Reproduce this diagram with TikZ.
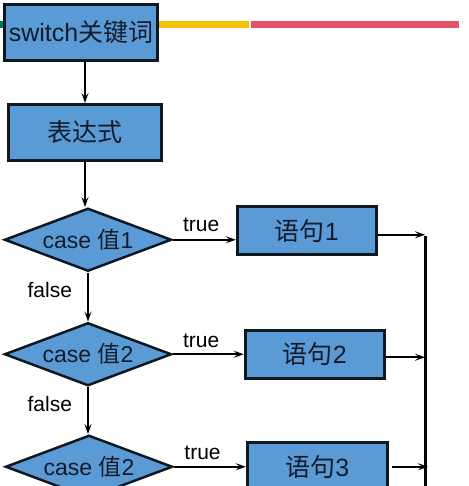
\documentclass[tikz,border=0pt]{standalone}
\usepackage{fontspec}
\setmainfont{Liberation Sans}
\newfontfamily\cjk{Noto Sans CJK SC}
\usetikzlibrary{arrows.meta, positioning, shapes.geometric}

\definecolor{boxBlue}{HTML}{5B9BD5}
\definecolor{boxLine}{HTML}{0F1720}
\definecolor{boxText}{HTML}{141C2C}
\definecolor{barGreen}{HTML}{007A5E}
\definecolor{barYellow}{HTML}{F2C100}
\definecolor{barRed}{HTML}{E2526A}

\begin{document}
\begin{tikzpicture}[
    x=1pt, y=-1pt,
    box/.style = {draw=boxLine, fill=boxBlue, rectangle, line width=3pt, text=boxText,
        font=\fontsize{25}{29}\selectfont, inner sep=0pt},
    test/.style = {draw=boxLine, fill=boxBlue, diamond, aspect=2.6, line width=2.5pt, text=boxText,
        font=\fontsize{23}{27}\selectfont, inner sep=0pt, minimum width=167pt, minimum height=63pt},
    flow/.style = {-{Stealth[length=10pt, width=7pt, inset=4pt]}, line width=2pt},
    onArrow/.style = {font=\fontsize{21}{24}\selectfont, inner sep=0pt},
    node distance=44pt and 66pt
]
\useasboundingbox (0,0) rectangle (468,486);
\clip (0,0) rectangle (468,486);

% coloured bar behind the first box
\fill[barGreen] (0,21) rectangle (10,28);
\fill[barYellow] (150,21) rectangle (249,28);
\fill[barRed] (251,21) rectangle (459,28);

\node(Keyword)[box, minimum width=153pt, minimum height=56pt] at (81,32.5) {
    switch{\cjk 关键词}
};

\node(Expr)[box, minimum width=153pt, minimum height=56pt, below=41pt of Keyword, xshift=4pt] {
    {\cjk 表达式}
};
\draw[flow] (Expr.north |- Keyword.south) -- (Expr.north);

\node(Case1)[test, below=45pt of Expr, xshift=3pt] {
    case {\cjk 值}1
};
\draw[flow] (Expr.south) -- (Expr.south |- Case1.north);

\node(Stmt1)[box, minimum width=139pt, minimum height=48pt, right=63pt of Case1, yshift=9pt] {
    {\cjk 语句}1
};
\draw[flow] (Case1.east) -- (Case1.east -| Stmt1.west)
    node[onArrow, pos=0.45, above=7pt] {true};

\node(Case2)[test, below=49pt of Case1] {
    case {\cjk 值}2
};
\draw[flow] (Case1.south) -- (Case2.north)
    node[onArrow, pos=0.36, left=15pt] {false};

\node(Stmt2)[box, minimum width=139pt, minimum height=48pt, right=71pt of Case2] {
    {\cjk 语句}2
};
\draw[flow] (Case2.east) -- (Case2.east -| Stmt2.west)
    node[onArrow, pos=0.4, above=6pt] {true};

\node(Case3)[test, below=47pt of Case2, xshift=1pt] {
    case {\cjk 值}2
};
\draw[flow] (Case2.south) -- (Case2.south |- Case3.north)
    node[onArrow, pos=0.36, left=15pt] {false};

\node(Stmt3)[box, minimum width=140pt, minimum height=48pt, right=72pt of Case3] {
    {\cjk 语句}3
};
\draw[flow] (Case3.east) -- (Case3.east -| Stmt3.west)
    node[onArrow, pos=0.4, above=6pt] {true};

% collecting line on the right
\coordinate(BusTop) at (425,236);
\coordinate(BusEnd) at (425,500);
\draw[line width=3pt] (BusTop) -- (BusEnd);

\draw[flow] ([yshift=-4pt]Stmt1.east) -- ([yshift=-4pt]Stmt1.east -| BusTop);
\draw[flow] ([yshift=-3pt]Stmt2.east) -- ([yshift=-3pt]Stmt2.east -| BusTop);
\draw[flow] ([xshift=3pt]Stmt3.east) -- ([xshift=3pt]Stmt3.east -| BusTop);

\end{tikzpicture}
\end{document}
